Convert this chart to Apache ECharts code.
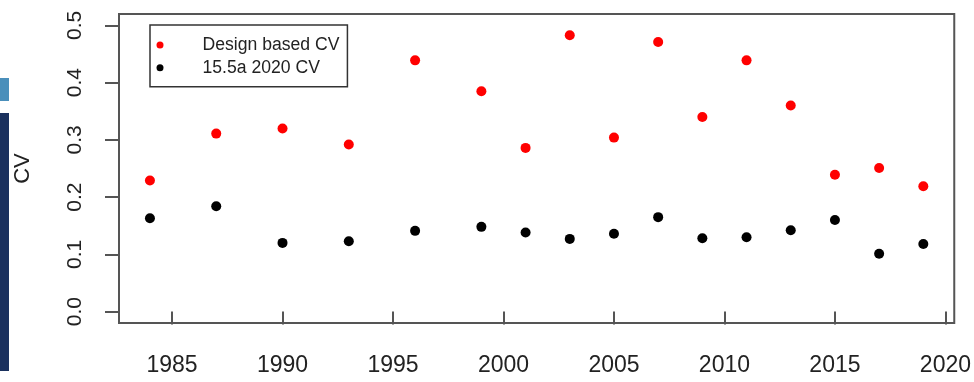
<!DOCTYPE html>
<html>
<head>
<meta charset="utf-8">
<script src="https://cdn.jsdelivr.net/npm/echarts@6/dist/echarts.min.js"></script>
<style>
  html, body { margin: 0; padding: 0; background: #ffffff; }
  #chart { width: 974px; height: 382px; }
</style>
</head>
<body>
<div id="chart"></div>
<script>
// Survey years
const years = [1984, 1987, 1990, 1993, 1996, 1999, 2001, 2003, 2005, 2007, 2009, 2011, 2013, 2015, 2017, 2019];
// Design based CV per survey year
const designCV = [0.229, 0.311, 0.320, 0.292, 0.439, 0.385, 0.286, 0.483, 0.304, 0.471, 0.340, 0.439, 0.360, 0.239, 0.251, 0.219];
// Model (15.5a 2020) CV per survey year
const modelCV = [0.163, 0.184, 0.120, 0.123, 0.141, 0.148, 0.138, 0.127, 0.136, 0.165, 0.128, 0.130, 0.142, 0.160, 0.101, 0.118];
// Tick values
const xTicks = [1985, 1990, 1995, 2000, 2005, 2010, 2015, 2020];
const yTicks = [0.0, 0.1, 0.2, 0.3, 0.4, 0.5];

const seriesNames = ['Design based CV', '15.5a 2020 CV'];

const chart = echarts.init(document.getElementById('chart'), null, { renderer: 'canvas' });

const FONT = 'Liberation Sans, Arial, sans-serif';
const TEXT = '#222222';
const FRAME = '#555555';

chart.setOption({
  animation: false,
  backgroundColor: '#ffffff',
  textStyle: { fontFamily: FONT },
  graphic: [
    { type: 'rect', shape: { x: 0, y: 78, width: 9, height: 23 }, style: { fill: '#4a8fbb' }, silent: true },
    { type: 'rect', shape: { x: 0, y: 113, width: 9, height: 258 }, style: { fill: '#1b315e' }, silent: true }
  ],
  grid: {
    left: 119, top: 14, width: 836, height: 309,
    show: true, borderColor: FRAME, borderWidth: 2, backgroundColor: 'transparent'
  },
  legend: {
    left: 150, top: 25,
    orient: 'vertical',
    data: seriesNames.map(n => ({ name: n, icon: 'circle' })),
    itemWidth: 25, itemHeight: 7, itemGap: 4.7,
    padding: [11, 8, 10, 6.5],
    borderColor: '#333333', borderWidth: 1.5, borderRadius: 0,
    itemStyle: { opacity: 1 },
    textStyle: { fontFamily: FONT, fontSize: 17.6, color: TEXT, lineHeight: 18, padding: [0, 0, 0, 25] },
    selectedMode: false
  },
  xAxis: {
    type: 'value',
    min: 1982.6, max: 2020.4,
    axisLine: { show: false },
    splitLine: { show: false },
    axisTick: { show: true, inside: false, length: 13, customValues: xTicks, lineStyle: { color: FRAME, width: 2 } },
    axisLabel: {
      customValues: xTicks, fontFamily: FONT, fontSize: 23, color: TEXT, margin: 31,
      showMinLabel: true, showMaxLabel: true,
      formatter: v => String(Math.round(v))
    }
  },
  yAxis: {
    type: 'value',
    min: -0.02, max: 0.52,
    name: 'CV', nameLocation: 'middle', nameRotate: 90, nameGap: 85,
    nameTextStyle: { fontFamily: FONT, fontSize: 22, color: TEXT },
    axisLine: { show: false },
    splitLine: { show: false },
    axisTick: { show: true, inside: false, length: 14, customValues: yTicks, lineStyle: { color: FRAME, width: 2 } },
    axisLabel: {
      customValues: yTicks, rotate: 90, fontFamily: FONT, fontSize: 21, color: TEXT, margin: 33,
      formatter: v => v.toFixed(1)
    }
  },
  series: [
    {
      name: seriesNames[0], type: 'scatter', symbol: 'circle', symbolSize: 10,
      itemStyle: { color: '#ff0000', opacity: 1 },
      data: years.map((y, i) => [y, designCV[i]])
    },
    {
      name: seriesNames[1], type: 'scatter', symbol: 'circle', symbolSize: 10,
      itemStyle: { color: '#000000', opacity: 1 },
      data: years.map((y, i) => [y, modelCV[i]])
    }
  ]
});
</script>
</body>
</html>
